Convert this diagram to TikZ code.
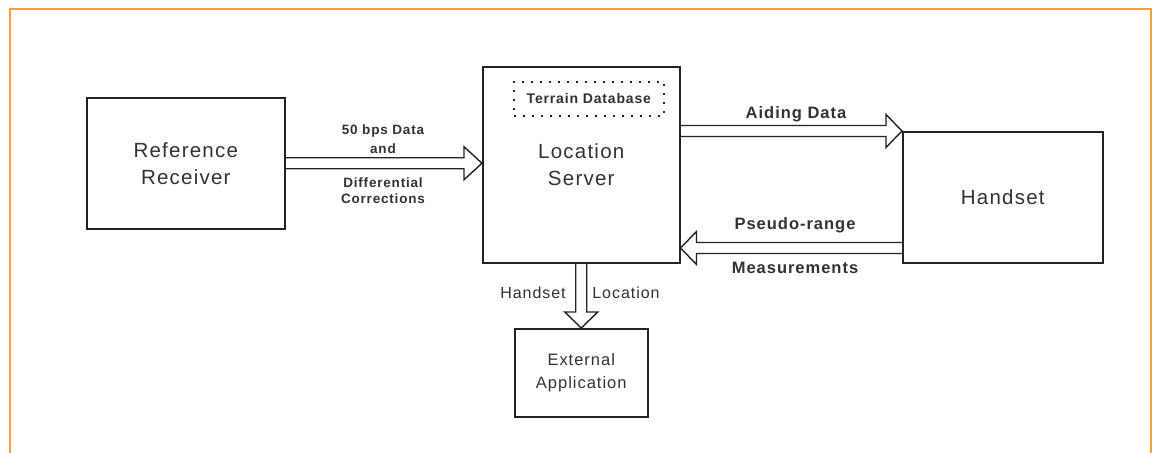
\documentclass[tikz,border=0pt]{standalone}
\usepackage{fontspec}
\setmainfont{Liberation Sans}
\newfontfamily\wide[LetterSpace=6]{Liberation Sans}
\usetikzlibrary{calc}
\definecolor{frameorange}{RGB}{246,162,52}
\definecolor{ink}{RGB}{35,35,35}
\definecolor{txt}{RGB}{50,50,50}
\tikzset{
  box/.style={draw=ink, line width=1.5pt, inner sep=0pt, anchor=north west,
              align=center, text=txt},
  dbbox/.style={draw=ink, line width=1.6pt, dash pattern=on 2pt off 7pt, inner sep=0pt, anchor=north west,
              align=center, text=txt},
  harr/.style={draw=ink, line width=1.4pt, line join=miter},
  lbl/.style={text=txt, inner sep=0pt, align=center},
  bigtxt/.style={font=\wide\fontsize{20.5}{27}\selectfont},
  smalltxt/.style={font=\wide\bfseries\fontsize{13.5}{16}\selectfont},
  midtxt/.style={font=\wide\bfseries\fontsize{16.5}{20}\selectfont},
}
\begin{document}
\begin{tikzpicture}[x=1pt,y=-1pt]
\useasboundingbox (0,0) rectangle (1155,452);
% frame
\draw[frameorange, line width=2pt] (10,460) -- (10,9) -- (1151,9) -- (1151,460);

% boxes
\node[box, bigtxt, minimum width=198, minimum height=131] (rr) at (86,97) {Reference\\Receiver};
\node[box, bigtxt, minimum width=197, minimum height=196] (ls) at (482,66) {Location\\Server};
\node[dbbox, font=\wide\bfseries\fontsize{14}{16}\selectfont, minimum width=150, minimum height=34] (db) at (513,81) {Terrain Database};
\node[box, bigtxt, minimum width=200, minimum height=131] (hs) at (902,131) {Handset};
\node[box, font=\wide\fontsize{16.5}{23}\selectfont, minimum width=133, minimum height=88] (ea) at (514,328) {External\\Application};

% arrow: Reference Receiver -> Location Server
\coordinate (t1) at (ls.west |- rr.east);
\draw[harr] ($(rr.east)+(0,-5.5)$) -- ($(t1)+(-18,-5.5)$) -- ++(0,-11) -- (t1)
  -- ($(t1)+(-18,16.5)$) -- ++(0,-11) -- ($(rr.east)+(0,5.5)$);

% arrow: Location Server -> Handset
\coordinate (s2) at (ls.east |- hs.north west);
\coordinate (t2) at (hs.north west);
\draw[harr] ($(s2)+(0,-5.5)$) -- ($(t2)+(-16,-5.5)$) -- ++(0,-11) -- (t2)
  -- ($(t2)+(-16,16.5)$) -- ++(0,-11) -- ($(s2)+(0,5.5)$);

% arrow: Handset -> Location Server
\coordinate (s3) at ($(hs.south west)+(0,-15.5)$);
\coordinate (t3) at (ls.east |- s3);
\draw[harr] ($(s3)+(0,-5.5)$) -- ($(t3)+(16,-5.5)$) -- ++(0,-11) -- (t3)
  -- ($(t3)+(16,16.5)$) -- ++(0,-11) -- ($(s3)+(0,5.5)$);

% arrow: Location Server -> External Application
\draw[harr] ($(ls.south)+(-5.5,0)$) -- ($(ea.north)+(-5.5,-16)$) -- ++(-11,0) -- (ea.north)
  -- ($(ea.north)+(16.5,-16)$) -- ++(-11,0) -- ($(ls.south)+(5.5,0)$);

% labels
\node[lbl, smalltxt] (l1) at (383,131) {50 bps Data};
\node[lbl, smalltxt] (l2) at (383,149) {and};
\node[lbl, smalltxt] (l3) at (383,183) {Differential};
\node[lbl, smalltxt] (l4) at (383,199) {Corrections};
\node[lbl, midtxt] (l5) at (796,114) {Aiding Data};
\node[lbl, midtxt] (l6) at (795,225) {Pseudo-range};
\node[lbl, midtxt] (l7) at (795,268) {Measurements};
\node[lbl, font=\wide\fontsize{16}{20}\selectfont] (l8) at (533,293) {Handset};
\node[lbl, font=\wide\fontsize{16}{20}\selectfont] (l9) at (626,293) {Location};
\end{tikzpicture}
\end{document}
